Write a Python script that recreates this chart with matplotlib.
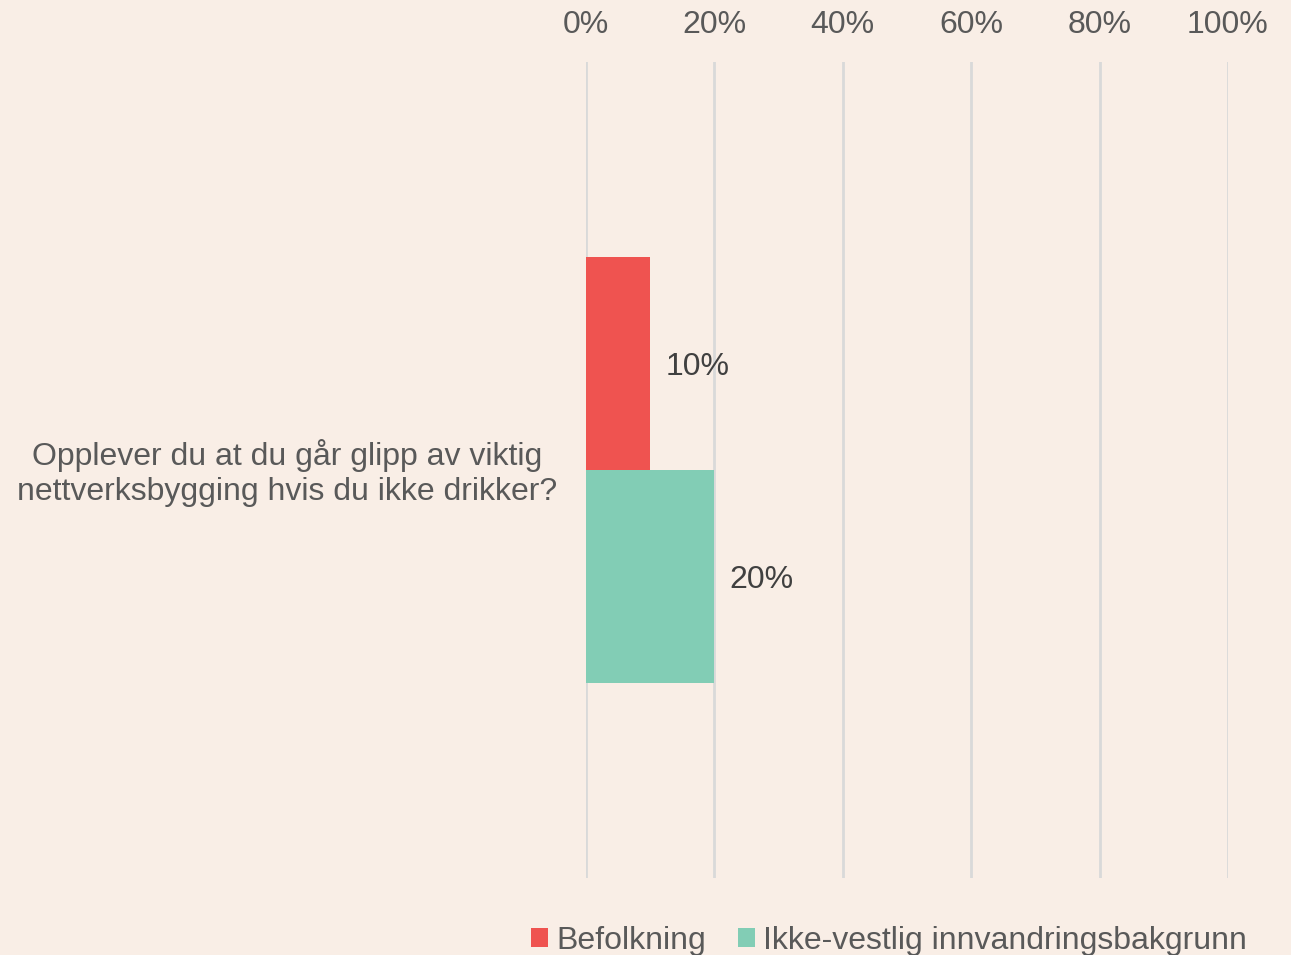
import matplotlib.pyplot as plt
from matplotlib.ticker import PercentFormatter
from matplotlib.transforms import ScaledTranslation

question = "Opplever du at du går glipp av viktig\nnettverksbygging hvis du ikke drikker?"
groups = ["Befolkning", "Ikke-vestlig innvandringsbakgrunn"]
values = [10, 20]
colors = ["#EF5350", "#82CDB5"]

plt.rcParams['font.family'] = ['Liberation Sans', 'DejaVu Sans']
bg = "#F9EEE6"
txt = "#595959"

fig = plt.figure(figsize=(12.91, 9.55), dpi=100, facecolor=bg)
ax = fig.add_axes([0.4539, 0.0806, 0.4973, 0.8545], facecolor=bg)

# two bars around the single category, red on top
bar_h = 0.2616
offsets = [bar_h / 2, -bar_h / 2]
for name, val, col, off in zip(groups, values, colors, offsets):
    ax.barh(off, val, height=bar_h, color=col, label=name, zorder=3)
    ax.text(val + 2.4, off - 0.004, f"{val}%", va='center', ha='left',
            fontsize=23, color="#404040")

ax.set_ylim(-0.5, 0.5)
ax.set_xlim(0, 100)
ax.set_xticks(range(0, 101, 20))
ax.xaxis.set_major_formatter(PercentFormatter(decimals=0))
ax.xaxis.tick_top()
ax.tick_params(axis='x', length=0, pad=16, labelsize=23, labelcolor=txt)
ax.set_yticks([0])
ax.set_yticklabels([question], multialignment='center', linespacing=1.25)
ax.tick_params(axis='y', length=0, pad=21, labelsize=23, labelcolor=txt)
for lab in ax.get_yticklabels():
    lab.set_transform(lab.get_transform() + ScaledTranslation(0, 0.035, fig.dpi_scale_trans))
ax.grid(axis='x', color="#D9D9D9", linewidth=2, zorder=0)
for s in ax.spines.values():
    s.set_visible(False)

fig.legend(loc='center', bbox_to_anchor=(0.6886, 0.015), ncol=2, frameon=False,
           fontsize=23, labelcolor=txt, handlelength=0.55, handleheight=0.55,
           handletextpad=0.25, columnspacing=1.0, borderpad=0)

fig.savefig("out.png", dpi=100, facecolor=bg)
